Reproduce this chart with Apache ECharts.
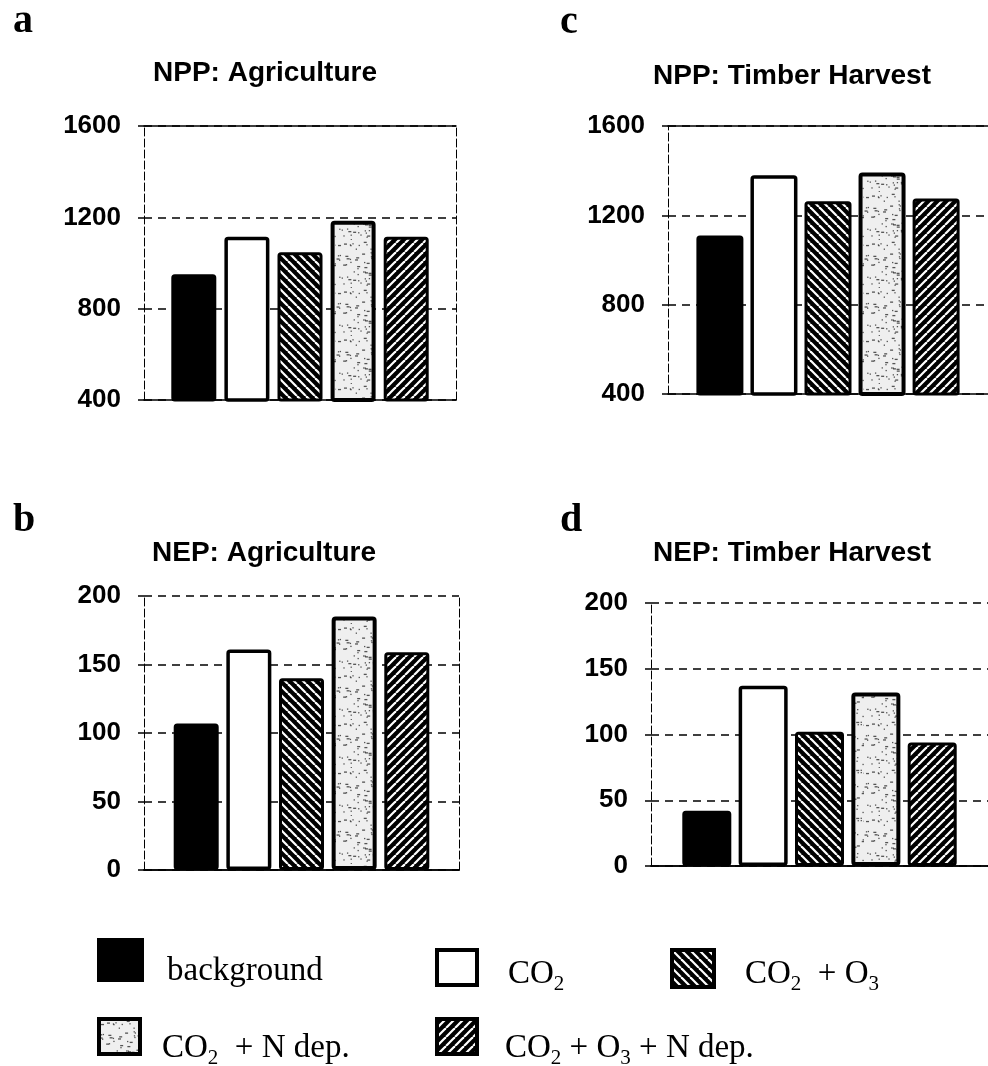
<!DOCTYPE html>
<html>
<head>
<meta charset="utf-8">
<script src="https://cdn.jsdelivr.net/npm/echarts@6/dist/echarts.min.js"></script>
<style>
  html, body { margin: 0; padding: 0; background: #fff; }
  #chart { width: 988px; height: 1066px; }
</style>
</head>
<body>
<div id="chart"></div>
<script>
// treatments (one bar each, same order in every panel)
const treatments = ['background', 'CO2', 'CO2 + O3', 'CO2 + N dep.', 'CO2 + O3 + N dep.']

// values
const nppAgriculture = [951, 1115, 1047, 1185, 1115]
const nepAgriculture = [107, 161, 140, 185, 159]
const nppTimber = [1110, 1380, 1263, 1392, 1275]
const nepTimber = [42, 137, 102, 132, 94]

// tick labels
const nppTicks = [400, 800, 1200, 1600]
const nepTicks = [0, 50, 100, 150, 200]

// legend text with subscripts
const legendText = {
  'background': '{n|background}',
  'CO2': '{n|CO}{s|2}',
  'CO2 + O3': '{n|CO}{s|2}{n|  + O}{s|3}',
  'CO2 + N dep.': '{n|CO}{s|2}{n|  + N dep.}',
  'CO2 + O3 + N dep.': '{n|CO}{s|2}{n| + O}{s|3}{n| + N dep.}'
}

// panel layout
const panels = [
  { letter: 'a', title: 'NPP: Agriculture', values: nppAgriculture, ticks: nppTicks,
    grid: { left: 144, top: 126, width: 312, height: 274 }, titleX: 265, titleY: 73, letterX: 13, letterY: 22,
    barWidth: 45, barGap: '18%' },
  { letter: 'b', title: 'NEP: Agriculture', values: nepAgriculture, ticks: nepTicks,
    grid: { left: 144, top: 596, width: 315, height: 274 }, titleX: 264, titleY: 553, letterX: 13, letterY: 521,
    barWidth: 45, barGap: '17%' },
  { letter: 'c', title: 'NPP: Timber Harvest', values: nppTimber, ticks: nppTicks,
    grid: { left: 668, top: 126, width: 327, height: 268 }, titleX: 792, titleY: 76, letterX: 560, letterY: 23,
    barWidth: 47, barGap: '15%' },
  { letter: 'd', title: 'NEP: Timber Harvest', values: nepTimber, ticks: nepTicks,
    grid: { left: 651, top: 603, width: 341, height: 263 }, titleX: 792, titleY: 553, letterX: 560, letterY: 521,
    barWidth: 49, barGap: '15%' }
]

// fill patterns
function hatch(dir) {
  const s = 9
  const c = document.createElement('canvas')
  c.width = s
  c.height = s
  const g = c.getContext('2d')
  g.fillStyle = '#000'
  g.fillRect(0, 0, s, s)
  g.strokeStyle = '#fff'
  g.lineWidth = 2.2
  for (const k of [-s, 0, s]) {
    g.beginPath()
    if (dir > 0) {
      g.moveTo(k, s)
      g.lineTo(k + s, 0)
    } else {
      g.moveTo(k, 0)
      g.lineTo(k + s, s)
    }
    g.stroke()
  }
  return { image: c, repeat: 'repeat' }
}

function stipple() {
  const s = 48
  const c = document.createElement('canvas')
  c.width = s
  c.height = s
  const g = c.getContext('2d')
  g.fillStyle = '#efefef'
  g.fillRect(0, 0, s, s)
  g.fillStyle = 'rgba(0,0,0,0.65)'
  let seed = 11
  for (let i = 0; i < 70; i++) {
    seed = (seed * 9301 + 49297) % 233280
    const x = seed / 233280 * s
    seed = (seed * 9301 + 49297) % 233280
    const y = seed / 233280 * s
    g.fillRect(x, y, i % 3 === 0 ? 3 : 1.3, 1.3)
  }
  return { image: c, repeat: 'repeat' }
}

const styles = {
  'background': { color: '#000', borderColor: '#000', borderWidth: 3, borderRadius: 2 },
  'CO2': { color: '#fff', borderColor: '#000', borderWidth: 3.5, borderRadius: 2 },
  'CO2 + O3': { color: hatch(-1), borderColor: '#000', borderWidth: 3, borderRadius: 2 },
  'CO2 + N dep.': { color: stipple(), borderColor: '#000', borderWidth: 4, borderRadius: 2 },
  'CO2 + O3 + N dep.': { color: hatch(1), borderColor: '#000', borderWidth: 3, borderRadius: 2 }
}

// legend placement: [left, top, itemWidth, itemHeight, text shift (padding top), text gap]
const legendPos = {
  'background': [97, 938, 43, 40, 22, 20],
  'CO2': [435, 948, 40, 35, 13, 26],
  'CO2 + O3': [670, 948, 42, 37, 11, 26],
  'CO2 + N dep.': [97, 1017, 41, 35, 23, 17],
  'CO2 + O3 + N dep.': [435, 1017, 40, 35, 23, 23]
}

const myChart = echarts.init(document.getElementById('chart'))

const grid = []
const xAxis = []
const yAxis = []
const series = []
const graphic = []

panels.forEach((p, i) => {
  grid.push(Object.assign({ containLabel: false }, p.grid))
  const cat = [p.title]
  // bottom axis
  xAxis.push({
    type: 'category', gridIndex: i, data: cat,
    axisLine: { lineStyle: { color: '#000', width: 1.5 } },
    axisTick: { show: false }, axisLabel: { show: false }
  })
  // top border
  xAxis.push({
    type: 'category', gridIndex: i, data: cat, position: 'top',
    axisLine: { lineStyle: { color: '#000', width: 1.5 } },
    axisTick: { show: false }, axisLabel: { show: false }
  })
  const min = p.ticks[0]
  const max = p.ticks[p.ticks.length - 1]
  yAxis.push({
    type: 'value', gridIndex: i, min: min, max: max, interval: p.ticks[1] - p.ticks[0],
    axisLine: { show: true, lineStyle: { color: '#000', width: 1, type: [8, 3] } },
    axisTick: { show: true, length: 6, lineStyle: { color: '#000', width: 1.5 } },
    axisLabel: {
      color: '#000', fontFamily: 'Liberation Sans', fontWeight: 'bold', fontSize: 26, margin: 23,
      formatter: v => String(v)
    },
    splitLine: { show: true, lineStyle: { color: '#000', width: 1.5, type: [8, 6] } }
  })
  // right border
  yAxis.push({
    type: 'value', gridIndex: i, min: min, max: max, interval: p.ticks[1] - p.ticks[0], position: 'right',
    axisLine: { show: true, lineStyle: { color: '#000', width: 1, type: [8, 3] } },
    axisTick: { show: false }, axisLabel: { show: false }, splitLine: { show: false }
  })
  treatments.forEach((t, j) => {
    series.push({
      type: 'bar', name: t, xAxisIndex: i * 2, yAxisIndex: i * 2,
      data: [p.values[j]],
      barWidth: p.barWidth, barGap: p.barGap,
      itemStyle: styles[t], silent: true
    })
  })
  graphic.push({
    type: 'text', x: p.titleX, y: p.titleY,
    style: { text: p.title, font: 'bold 28px "Liberation Sans"', fill: '#000', align: 'center', verticalAlign: 'middle' }
  })
  graphic.push({
    type: 'text', x: p.letterX, y: p.letterY,
    style: { text: p.letter, font: 'bold 40px "Liberation Serif"', fill: '#000', align: 'left', verticalAlign: 'middle' }
  })
})

const legend = treatments.map(t => {
  const pos = legendPos[t]
  return {
    left: pos[0], top: pos[1], padding: 0, orient: 'horizontal',
    selectedMode: false, icon: 'rect',
    itemWidth: pos[2], itemHeight: pos[3],
    data: [{ name: t, itemStyle: Object.assign({}, styles[t], { borderWidth: 4 }) }],
    formatter: name => legendText[name],
    textStyle: {
      fontFamily: 'Liberation Serif', fontSize: 33, color: '#000',
      padding: [pos[4], 0, 0, pos[5]],
      rich: {
        n: { fontFamily: 'Liberation Serif', fontSize: 33, lineHeight: 42, color: '#000' },
        s: { fontFamily: 'Liberation Serif', fontSize: 21, lineHeight: 21, verticalAlign: 'bottom', color: '#000' }
      }
    }
  }
})

const option = {
  animation: false,
  backgroundColor: '#fff',
  grid: grid,
  xAxis: xAxis,
  yAxis: yAxis,
  legend: legend,
  series: series,
  graphic: graphic
}
myChart.setOption(option)
</script>
</body>
</html>
